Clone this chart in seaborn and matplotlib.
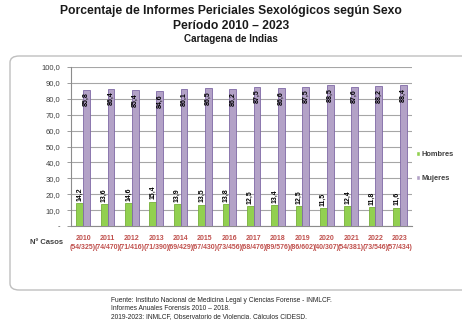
import matplotlib
matplotlib.use("Agg")
import matplotlib.pyplot as plt
import seaborn as sns
import pandas as pd
from matplotlib.patches import FancyBboxPatch

years = ["2010", "2011", "2012", "2013", "2014", "2015", "2016",
         "2017", "2018", "2019", "2020", "2021", "2022", "2023"]
cases = ["(54/325)", "(74/470)", "(71/416)", "(71/390)", "(69/429)", "(67/430)", "(73/456)",
         "(68/476)", "(89/576)", "(86/602)", "(40/307)", "(54/381)", "(73/546)", "(57/434)"]
hombres = [14.2, 13.6, 14.6, 15.4, 13.9, 13.5, 13.8, 12.5, 13.4, 12.5, 11.5, 12.4, 11.8, 11.6]
mujeres = [85.8, 86.4, 85.4, 84.6, 86.1, 86.5, 86.2, 87.5, 86.6, 87.5, 88.5, 87.6, 88.2, 88.4]
series = ["Hombres", "Mujeres"]
yticks = [0, 10, 20, 30, 40, 50, 60, 70, 80, 90, 100]
ytick_labels = ["-", "10,0", "20,0", "30,0", "40,0", "50,0", "60,0", "70,0", "80,0", "90,0", "100,0"]

sns.set_theme(style="white")
plt.rcParams['font.family'] = ['Liberation Sans', 'DejaVu Sans']

cats = [f"{y}\n{c}" for y, c in zip(years, cases)]
df = pd.DataFrame({
    "cat": cats * 2,
    "val": hombres + mujeres,
    "sex": [series[0]] * len(cats) + [series[1]] * len(cats),
})

fig = plt.figure(figsize=(4.62, 3.27), dpi=100)
# outer rounded border
border = FancyBboxPatch((10 / 462, 1 - 290 / 327), 470 / 462, 234 / 327,
                        boxstyle="round,pad=0,rounding_size=0.02",
                        transform=fig.transFigure, facecolor="white",
                        edgecolor="#bfbfbf", linewidth=1.0, zorder=-5)
fig.patches.append(border)

ax = fig.add_axes([71 / 462, 1 - 226 / 327, 341 / 462, 159 / 327])
ax.set_facecolor("none")
palette = {"Hombres": "#92d050", "Mujeres": "#b3a2c7"}
sns.barplot(data=df, x="cat", y="val", hue="sex", palette=palette, width=0.56,
            saturation=1, ax=ax, legend=True, zorder=3)

edge = {"Hombres": "#77b03a", "Mujeres": "#7f68a6"}
for cont, name, vals in zip(ax.containers, series, [hombres, mujeres]):
    for p, v in zip(cont.patches, vals):
        p.set_edgecolor(edge[name])
        p.set_linewidth(0.6)
        xc = p.get_x() + p.get_width() / 2
        top = p.get_height()
        lab = f"{v:.1f}".replace(".", ",")
        if name == "Mujeres":
            ax.annotate(lab, (xc, top), xytext=(0, -2), textcoords="offset points",
                        rotation=90, ha="center", va="top", fontsize=5,
                        fontweight="bold", color="black", zorder=5)
        else:
            ax.annotate(lab, (xc, top), xytext=(0, 1.5), textcoords="offset points",
                        rotation=90, ha="center", va="bottom", fontsize=5,
                        fontweight="bold", color="black", zorder=5)

ax.set_ylim(0, 100)
ax.set_xlim(-0.5, len(cats) - 0.5)
ax.set_yticks(yticks)
ax.set_yticklabels(ytick_labels, fontsize=5.5, color="#404040")
ax.yaxis.grid(True, color="#a6a6a6", linewidth=0.8, zorder=0)
ax.set_axisbelow(True)
ax.tick_params(axis="y", which="major", left=True, length=3, width=0.6,
               color="#8c8c8c", pad=4.5)
ax.tick_params(axis="x", bottom=False, pad=0.5)
for t in ax.get_xticklabels():
    t.set_fontsize(5)
    t.set_color("#c0504d")
    t.set_fontweight("bold")
    t.set_linespacing(1.3)
ax.set_xlabel("")
ax.set_ylabel("")
for s in ["top", "right"]:
    ax.spines[s].set_visible(False)
ax.spines["left"].set_color("#8c8c8c")
ax.spines["bottom"].set_color("#8c8c8c")
ax.spines["left"].set_linewidth(0.8)
ax.spines["bottom"].set_linewidth(0.8)

leg = ax.legend(loc="center left", bbox_to_anchor=(1.0, 0.374), frameon=False,
                fontsize=5.4, handlelength=0.6, handleheight=0.6,
                labelspacing=2.2, handletextpad=0.2, borderaxespad=0.5, borderpad=0)
for t in leg.get_texts():
    t.set_color("#404040")
    t.set_fontweight("bold")

fig.text(30 / 462, 1 - 243 / 327, "Nº Casos", fontsize=5.5, color="#404040",
         fontweight="bold", va="center", ha="left")

fig.text(0.5, 1 - 11 / 327, "Porcentaje de Informes Periciales Sexológicos según Sexo",
         ha="center", va="center", fontsize=8.7, fontweight="bold", color="#1a1a1a")
fig.text(0.5, 1 - 26 / 327, "Período 2010 – 2023",
         ha="center", va="center", fontsize=8.7, fontweight="bold", color="#1a1a1a")
fig.text(0.5, 1 - 39 / 327, "Cartagena de Indias",
         ha="center", va="center", fontsize=7.1, fontweight="bold", color="#1a1a1a")

footer = ["Fuente: Instituto Nacional de Medicina Legal y Ciencias Forense - INMLCF.",
          "Informes Anuales Forensis 2010 – 2018.",
          "2019-2023: INMLCF, Observatorio de Violencia. Cálculos CIDESD."]
for i, line in enumerate(footer):
    fig.text(111 / 462, 1 - (300 + i * 8.5) / 327, line, fontsize=4.75, color="#262626",
             va="center", ha="left")

fig.savefig("out.png", dpi=100)
